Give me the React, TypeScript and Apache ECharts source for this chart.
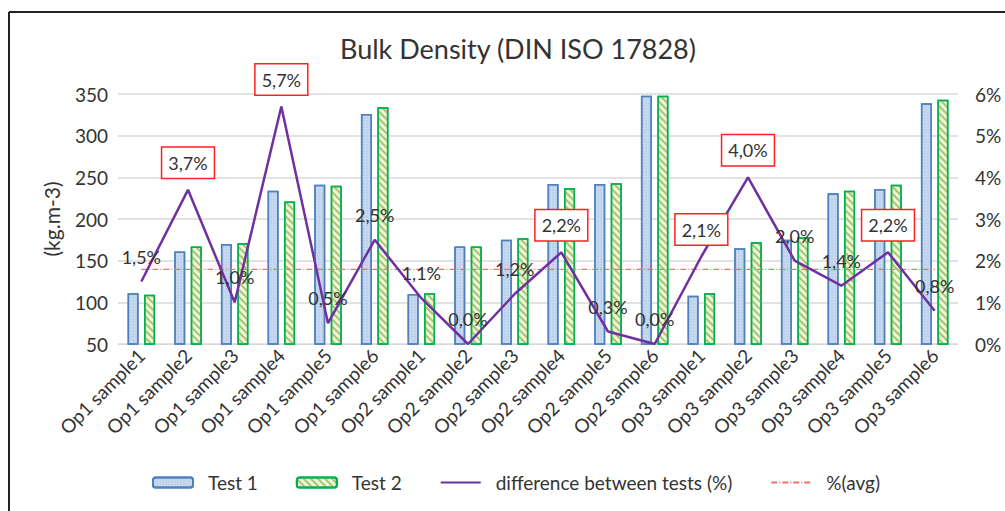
import React, { useEffect, useRef } from "react";
import * as echarts from "echarts";

const CATEGORIES = [
  "Op1 sample1", "Op1 sample2", "Op1 sample3", "Op1 sample4", "Op1 sample5", "Op1 sample6",
  "Op2 sample1", "Op2 sample2", "Op2 sample3", "Op2 sample4", "Op2 sample5", "Op2 sample6",
  "Op3 sample1", "Op3 sample2", "Op3 sample3", "Op3 sample4", "Op3 sample5", "Op3 sample6",
];
const TEST1 = [111, 161, 170, 234, 241, 326, 110, 167, 175, 242, 242, 348, 108, 165, 175, 231, 236, 339];
const TEST2 = [109, 167, 171, 221, 240, 334, 111, 167, 177, 237, 243, 348, 111, 172, 178, 234, 241, 343];
const DIFF = [1.5, 3.7, 1.0, 5.7, 0.5, 2.5, 1.1, 0.0, 1.2, 2.2, 0.3, 0.0, 2.1, 4.0, 2.0, 1.4, 2.2, 0.8];
const HIGHLIGHTED = [1, 3, 9, 12, 13, 16];
const AVG = [1.79, 1.79, 1.79, 1.79, 1.79, 1.79, 1.79, 1.79, 1.79, 1.79, 1.79, 1.79, 1.79, 1.79, 1.79, 1.79, 1.79, 1.79];
const LEFT_TICKS = { min: 50, max: 350, interval: 50 };
const RIGHT_TICKS = { min: 0, max: 6, interval: 1 };
const TITLE = "Bulk Density (DIN ISO 17828)";
const Y_NAME = "(kg.m-3)";
const LEGEND = ["Test 1", "Test 2", "difference between tests (%)", "%(avg)"];

const FONT = "Lato";
const TXT = "#333333";

const fmtPct = (v: number) => v.toFixed(1).replace(".", ",") + "%";

export default function App() {
  const ref = useRef<HTMLDivElement>(null);
  useEffect(() => {
    if (!ref.current) return;
    const chart = echarts.init(ref.current, null, { renderer: "svg" });
    const diffData = DIFF.map((v, i) => {
      const boxed = HIGHLIGHTED.includes(i);
      return {
        value: v,
        label: boxed
          ? {
              show: true,
              position: "top",
              distance: 12,
              borderColor: "#ff2020",
              borderWidth: 1.5,
              backgroundColor: "#ffffff",
              padding: [6, 6],
              lineHeight: 18,
            }
          : { show: true, position: "top", distance: 16, lineHeight: 18 },
      };
    });
    chart.setOption({
      animation: false,
      textStyle: { fontFamily: FONT },
      title: {
        text: TITLE,
        left: 335,
        top: 30,
        textStyle: { fontFamily: FONT, fontSize: 27, fontWeight: "normal", color: TXT },
      },
      graphic: [
        { type: "line", shape: { x1: 9, y1: 12, x2: 1005, y2: 12 }, style: { stroke: "#222", lineWidth: 2 } },
        { type: "line", shape: { x1: 9, y1: 12, x2: 9, y2: 511 }, style: { stroke: "#222", lineWidth: 2 } },
      ],
      legend: {
        data: [
          { name: LEGEND[0] },
          { name: LEGEND[1] },
          { name: LEGEND[2], itemStyle: { opacity: 0 } },
          { name: LEGEND[3], itemStyle: { opacity: 0 } },
        ],
        left: 147,
        top: 468,
        itemWidth: 40,
        itemHeight: 10,
        itemGap: 38,
        textStyle: { fontFamily: FONT, fontSize: 19, color: TXT, padding: [0, 0, 0, 10] },
      },
      grid: { left: 118, right: 47, top: 94, bottom: 167 },
      xAxis: {
        type: "category",
        data: CATEGORIES,
        axisLine: { lineStyle: { color: "#d9d9d9" } },
        axisTick: { show: false },
        axisLabel: { rotate: 45, interval: 0, fontSize: 19, color: TXT, fontFamily: FONT, margin: 8 },
      },
      yAxis: [
        {
          type: "value",
          min: LEFT_TICKS.min,
          max: LEFT_TICKS.max,
          interval: LEFT_TICKS.interval,
          name: Y_NAME,
          nameLocation: "middle",
          nameRotate: 90,
          nameGap: 56,
          nameTextStyle: { fontFamily: FONT, fontSize: 21, color: TXT },
          axisLabel: { fontSize: 19, color: TXT, fontFamily: FONT, margin: 10 },
          splitLine: { lineStyle: { color: "#d9d9d9", width: 1.5 } },
        },
        {
          type: "value",
          min: RIGHT_TICKS.min,
          max: RIGHT_TICKS.max,
          interval: RIGHT_TICKS.interval,
          axisLabel: { fontSize: 19, color: TXT, fontFamily: FONT, margin: 17, formatter: "{value}%" },
          splitLine: { show: false },
        },
      ],
      series: [
        {
          name: "Test 1",
          type: "bar",
          data: TEST1,
          barWidth: 11,
          barGap: "50%",
          itemStyle: {
            color: "#c9daf0",
            borderColor: "#4f81bd",
            borderWidth: 1.5,
            decal: {
              symbol: "circle",
              symbolSize: 0.6,
              color: "#9fbbe0",
              dashArrayX: [2, 1],
              dashArrayY: [2, 1],
            },
          },
        },
        {
          name: "Test 2",
          type: "bar",
          data: TEST2,
          barWidth: 11,
          itemStyle: {
            color: "#eef4dd",
            borderColor: "#00b050",
            borderWidth: 1.5,
            decal: {
              symbol: "rect",
              symbolSize: 1,
              color: "#a9c56a",
              dashArrayX: [1, 0],
              dashArrayY: [2, 3],
              rotation: Math.PI / 4,
            },
          },
        },
        {
          name: "difference between tests (%)",
          type: "line",
          yAxisIndex: 1,
          data: diffData,
          symbol: "circle",
          symbolSize: 0,
          showSymbol: true,
          lineStyle: { color: "#7030a0", width: 2.5 },
          itemStyle: { color: "#7030a0" },
          label: {
            show: true,
            fontFamily: FONT,
            fontSize: 18,
            color: TXT,
            formatter: (p: any) => fmtPct(p.value),
          },
          z: 5,
        },
        {
          name: "%(avg)",
          type: "line",
          yAxisIndex: 1,
          data: AVG,
          symbol: "none",
          lineStyle: { color: "#f07070", width: 1.2, type: [6, 2, 1, 2] },
          itemStyle: { color: "#f07070" },
          z: 3,
        },
      ],
    });
    return () => chart.dispose();
  }, []);
  return <div ref={ref} style={{ width: 1005, height: 511, position: "absolute", left: 0, top: 0, background: "#fff" }} />;
}
